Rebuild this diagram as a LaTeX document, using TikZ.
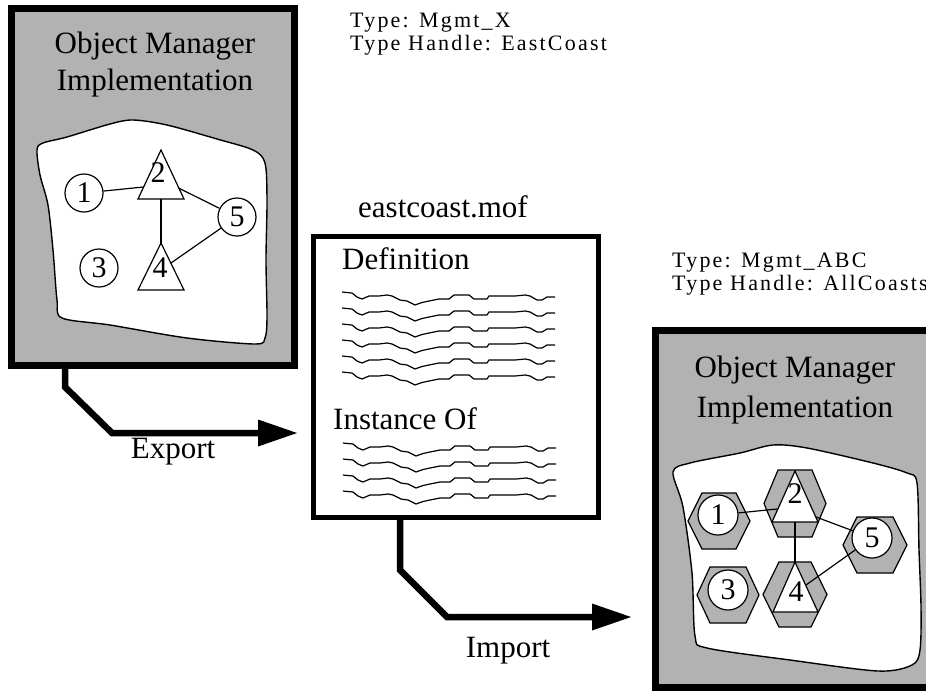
\documentclass[tikz,border=0pt]{standalone}
\usepackage{fontspec}
\setmainfont{Liberation Serif}
\newfontfamily\typefont[LetterSpace=10]{Liberation Serif}
\usetikzlibrary{arrows.meta}
\definecolor{boxgray}{RGB}{178,178,178}
\tikzset{
  panel/.style={draw=black, fill=boxgray, line width=7pt, minimum width=282.5pt, minimum height=356.5pt, inner sep=0pt},
  filebox/.style={draw=black, fill=white, line width=5pt, minimum width=284.5pt, minimum height=281pt, inner sep=0pt},
  blob/.style={draw=black, fill=white, line width=1.4pt},
  title/.style={font=\fontsize{31}{36}\selectfont, inner sep=0pt, anchor=base},
  typelabel/.style={font=\typefont\fontsize{22}{25}\selectfont, inner sep=0pt, anchor=base west},
  digit/.style={font=\fontsize{30}{34}\selectfont, inner sep=0pt},
  ring/.style={circle, draw=black, fill=white, line width=1.2pt, minimum size=38pt, inner sep=0pt, font=\fontsize{30}{34}\selectfont},
  ringR/.style={ring, minimum size=40pt},
  tri/.style={draw=black, fill=white, line width=1.2pt},
  edge/.style={draw=black, line width=1.2pt},
  hexstyle/.style={draw=black, fill=boxgray, line width=1.2pt},
  scribble/.style={draw=black, line width=1.2pt},
  flowarrow/.style={draw=black, line width=6.5pt, line join=miter, -{Triangle[length=40pt,width=25pt]}},
}
\newcommand{\hexcell}[5]{\path[hexstyle, shift={(#1,#2)}] (-#3,0) -- (-#4,-#5) -- (#4,-#5) -- (#3,0) -- (#4,#5) -- (-#4,#5) -- cycle;}
\newcommand{\squiggle}[2]{\path[scribble, shift={(#1,#2)}] plot coordinates {(0,-4) (10,-3) (15,1) (20,3) (27,0) (37,0) (45,-1) (50,0) (58,4) (65,5) (73,9) (80,6.5) (87,5) (97,3) (107,3) (112,-1) (127,-1) (132,3) (145,3) (147,0) (173,0) (183,-1) (188,0) (195,4) (200,4) (205,1) (213,1)};}
\begin{document}
\begin{tikzpicture}[x=1pt, y=-1pt]
\clip (0,0) rectangle (926,691);
\fill[white] (0,0) rectangle (926,691);

% ---------- left panel ----------
\node[panel] (lbox) at (152.75,186.75) {};
\node[title] (ltitle1) at (155,53) {Object Manager};
\node[title] (ltitle2) at (155,90) {Implementation};
\path[blob] plot[smooth cycle, tension=0.5] coordinates {(37,150) (43,143) (67,137) (110,124) (133,120) (167,125) (217,139) (253,150) (265,163) (267,200) (266,260) (267,317) (265,338) (255,344) (187,338) (110,325) (62,318) (57,300) (53,250) (48,205) (40,175)};

\path[tri] (161,150) -- (184,199) -- (138,199) -- cycle;
\path[tri] (161,243) -- (184,290) -- (138,290) -- cycle;
\node[digit] (l2) at (158,173) {2};
\node[digit] (l4) at (160,268) {4};
\node[ring] (l1) at (84,193) {1};
\node[ring] (l3) at (99,268) {3};
\node[ring] (l5) at (237,217) {5};
\coordinate (l2w) at (143.5,187);
\coordinate (l2e) at (178.5,188);
\coordinate (l2b) at (161,199);
\coordinate (l4t) at (161,243);
\coordinate (l4e) at (171,263);
\draw[edge] (l1) -- (l2w);
\draw[edge] (l2e) -- (l5);
\draw[edge] (l2b) -- (l4t);
\draw[edge] (l4e) -- (l5);

\node[typelabel] (ltype1) at (350,27) {Type: Mgmt\_X};
\node[typelabel] (ltype2) at (350,50) {Type Handle: EastCoast};

% ---------- file box ----------
\node[title] (fname) at (443,217) {eastcoast.mof};
\node[filebox] (mbox) at (455.75,377) {};
\node[title, anchor=base west] (defn) at (342,269) {Definition};
\foreach \yy in {296,312,328,344,360,376} {\squiggle{342}{\yy}}
\node[title, anchor=base west] (inst) at (333,429) {Instance Of};
\foreach \yy in {447,463,479,495} {\squiggle{343}{\yy}}

% ---------- arrows ----------
\coordinate (exbend) at (65,387);
\coordinate (exknee) at (112,433);
\coordinate (extip) at (298,433);
\draw[flowarrow] (lbox.south -| exbend) -- (exbend) -- (exknee) -- (extip);
\node[title] (exlab) at (173,458) {Export};

\coordinate (imbend) at (400,570);
\coordinate (imknee) at (447,617);
\coordinate (imtip) at (632,617);
\draw[flowarrow] (mbox.south -| imbend) -- (imbend) -- (imknee) -- (imtip);
\node[title] (imlab) at (508,657) {Import};

% ---------- right panel ----------
\node[typelabel] (rtype1) at (672,267) {Type: Mgmt\_ABC};
\node[typelabel] (rtype2) at (672,290) {Type Handle: AllCoasts};
\node[panel] (rbox) at (796.25,509) {};
\node[title] (rtitle1) at (795,377) {Object Manager};
\node[title] (rtitle2) at (795,417) {Implementation};
\path[blob] plot[smooth cycle, tension=0.5] coordinates {(673,472) (690,463) (740,453) (773,445) (807,448) (873,463) (907,473) (917,483) (919,550) (921,607) (920,650) (912,665) (878,671) (790,660) (707,648) (695,636) (692,573) (683,507)};

\hexcell{719}{521}{31}{17}{28}
\hexcell{728}{595}{31}{18}{28}
\hexcell{875}{545}{32}{18}{28}
\hexcell{795}{503.5}{31}{17}{33.5}
\hexcell{795}{594.5}{32}{16}{32.5}
\path[tri] (795,471) -- (818,522) -- (772,522) -- cycle;
\path[tri] (795,562) -- (818,612) -- (773,612) -- cycle;
\node[digit] (r2) at (795,494) {2};
\node[digit] (r4) at (796,592) {4};
\node[ringR] (r1) at (718,515) {1};
\node[ringR] (r3) at (728,590) {3};
\node[ringR] (r5) at (872,538) {5};
\coordinate (r2w) at (777,509);
\coordinate (r2e) at (816,517);
\coordinate (r2b) at (795,522);
\coordinate (r4t) at (795,562);
\coordinate (r4e) at (806,585);
\draw[edge] (r1) -- (r2w);
\draw[edge] (r2e) -- (r5);
\draw[edge] (r2b) -- (r4t);
\draw[edge] (r4e) -- (r5);
\end{tikzpicture}
\end{document}
